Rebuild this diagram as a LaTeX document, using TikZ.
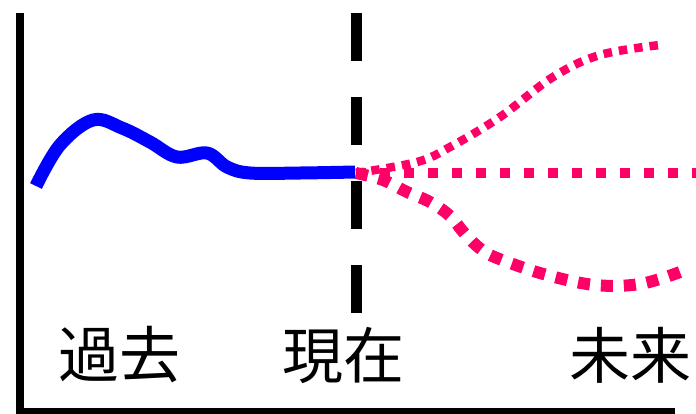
\documentclass[tikz,border=0pt]{standalone}
\usepackage{fontspec}
\newfontfamily\cjk{Noto Sans CJK JP}
\definecolor{futpink}{RGB}{255,0,102}
\begin{document}
\begin{tikzpicture}[x=1pt,y=-1pt,
  axisline/.style={line width=8pt,black},
  nowline/.style={line width=11pt,black,dash pattern=on 48pt off 36pt},
  pastline/.style={line width=13pt,blue,line join=round},
  futline/.style={futpink,line cap=butt},
  lab/.style={font=\cjk\fontsize{61}{70}\selectfont,inner sep=0pt,anchor=center}]
\useasboundingbox (0,0) rectangle (696,413);
% axes
\coordinate (top) at (20,13);
\coordinate (corner) at (20,412);
\coordinate (right) at (675,412);
\draw[axisline] (top) -- (corner) -- (right);
% present dashed line
\coordinate (ntop) at (356,13);
\coordinate (nbot) at (356,313);
\draw[nowline] (ntop) -- (nbot);
% past curve
\draw[pastline] plot[smooth,tension=0.6] coordinates {(36,186) (60,145) (93,120) (122,128) (150,142) (177,157) (207,153) (227,167) (250,173) (300,173) (355,172)};
% futures
\draw[futline,line width=8.5pt,dash pattern=on 8.5pt off 7pt] plot[smooth,tension=0.6] coordinates {(356,173) (417,162) (450,147) (500,117) (553,77) (600,55) (660,45)};
\draw[futline,line width=10pt,dash pattern=on 10pt off 14pt] (356,173) -- (696,173);
\draw[futline,line width=12pt,dash pattern=on 12pt off 11pt] plot[smooth,tension=0.6] coordinates {(356,173) (383,180) (407,192) (430,202) (450,216) (465,234) (482,250) (502,260) (547,275) (595,285) (640,284) (680,272)};
% labels
\node[lab] (past) at (119,355) {過去};
\node[lab] (now) at (343,355) {現在};
\node[lab] (fut) at (630,355) {未来};
\end{tikzpicture}
\end{document}
